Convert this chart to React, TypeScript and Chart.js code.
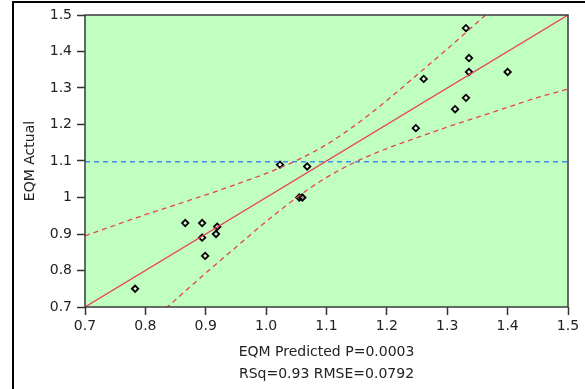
import React, { useEffect, useRef } from "react";
import { Chart, registerables } from "chart.js";

Chart.register(...registerables);

// Observed points (EQM Predicted vs EQM Actual)
const predicted = [0.783, 0.866, 0.894, 0.894, 0.899, 0.917, 0.919, 1.023, 1.055, 1.06, 1.068, 1.248, 1.261, 1.313, 1.331, 1.331, 1.336, 1.336, 1.4];
const actual = [0.75, 0.93, 0.93, 0.89, 0.84, 0.9, 0.92, 1.09, 1.0, 1.0, 1.085, 1.19, 1.325, 1.242, 1.273, 1.464, 1.382, 1.344, 1.344];

// Fit line endpoints and mean of actual
const fitX = [0.7, 1.5];
const fitY = [0.7, 1.5];
const meanActual = 1.098;

// Confidence curve readings
const bandX = [0.7, 0.75, 0.8, 0.85, 0.9, 0.95, 1.0, 1.05, 1.1, 1.15, 1.2, 1.25, 1.3, 1.35, 1.4, 1.45, 1.5];
const bandUpper = [0.895, 0.924, 0.953, 0.98, 1.007, 1.036, 1.066, 1.101, 1.145, 1.201, 1.266, 1.336, 1.407, 1.48, 1.553, 1.626, 1.7];
const bandLower = [0.5, 0.574, 0.647, 0.72, 0.793, 0.864, 0.934, 0.999, 1.055, 1.099, 1.134, 1.164, 1.193, 1.22, 1.247, 1.274, 1.297];

const xTitle = ["EQM Predicted P=0.0003", "RSq=0.93 RMSE=0.0792"];
const yTitle = "EQM Actual";

const FONT = "'DejaVu Sans', Verdana, sans-serif";
const RED = "#e8405c";

export default function App() {
  const ref = useRef<HTMLCanvasElement | null>(null);
  useEffect(() => {
    if (!ref.current) return;
    const areaPlugin = {
      id: "areaPlugin",
      beforeDatasetsDraw(chart: any) {
        const { ctx, chartArea: a } = chart;
        ctx.save();
        ctx.fillStyle = "#c0ffc0";
        ctx.fillRect(a.left, a.top, a.right - a.left, a.bottom - a.top);
        ctx.restore();
      },
      afterDatasetsDraw(chart: any) {
        const { ctx, chartArea: a } = chart;
        ctx.save();
        ctx.strokeStyle = "#3a3a3a";
        ctx.lineWidth = 1.5;
        ctx.strokeRect(a.left, a.top, a.right - a.left, a.bottom - a.top);
        ctx.restore();
      },
    };
    const chart = new Chart(ref.current, {
      type: "scatter",
      data: {
        datasets: [
          {
            type: "line",
            data: bandX.map((x, i) => ({ x, y: bandUpper[i] })),
            borderColor: RED,
            borderWidth: 1.3,
            borderDash: [5, 4],
            pointRadius: 0,
            cubicInterpolationMode: "monotone",
            fill: false,
          },
          {
            type: "line",
            data: bandX.map((x, i) => ({ x, y: bandLower[i] })),
            borderColor: RED,
            borderWidth: 1.3,
            borderDash: [5, 4],
            pointRadius: 0,
            cubicInterpolationMode: "monotone",
            fill: false,
          },
          {
            type: "line",
            data: fitX.map((x, i) => ({ x, y: fitY[i] })),
            borderColor: RED,
            borderWidth: 1.3,
            pointRadius: 0,
            fill: false,
          },
          {
            type: "line",
            data: fitX.map((x) => ({ x, y: meanActual })),
            borderColor: "#3f8fe6",
            borderWidth: 1.5,
            borderDash: [5, 4],
            pointRadius: 0,
            fill: false,
          },
          {
            type: "scatter",
            data: predicted.map((x, i) => ({ x, y: actual[i] })),
            pointStyle: "rectRot",
            pointRadius: 3.2,
            borderColor: "#000",
            borderWidth: 1.8,
            backgroundColor: "rgba(255,255,255,0.5)",
          },
        ],
      },
      options: {
        responsive: false,
        animation: false,
        layout: { padding: { left: 18, top: 15, right: 17, bottom: 0 } },
        plugins: { legend: { display: false }, tooltip: { enabled: false } },
        scales: {
          x: {
            type: "linear",
            min: 0.7,
            max: 1.5,
            afterFit(s: any) {
              s.height = 82;
            },
            ticks: {
              stepSize: 0.1,
              color: "#222",
              font: { family: FONT, size: 14 },
              padding: 3,
              maxRotation: 0,
              callback: (v: any) => Number(v).toFixed(1),
            },
            grid: { drawOnChartArea: false, tickLength: 8, color: "#333", tickWidth: 1.5 },
            border: { display: false },
            title: {
              display: true,
              text: xTitle,
              color: "#222",
              font: { family: FONT, size: 14, lineHeight: 1.57 },
              padding: { top: 0, bottom: 4 },
            },
          },
          y: {
            type: "linear",
            min: 0.7,
            max: 1.5,
            afterFit(s: any) {
              s.width = 67;
            },
            ticks: {
              stepSize: 0.1,
              color: "#222",
              font: { family: FONT, size: 14 },
              padding: 5,
              callback: (v: any) => {
                const n = Math.round(Number(v) * 10) / 10;
                return Number.isInteger(n) ? String(n) : n.toFixed(1);
              },
            },
            grid: { drawOnChartArea: false, tickLength: 8, color: "#333", tickWidth: 1.5 },
            border: { display: false },
            title: {
              display: true,
              text: yTitle,
              color: "#222",
              font: { family: FONT, size: 14 },
              padding: { top: 4, bottom: 4 },
            },
          },
        },
      },
      plugins: [areaPlugin],
    } as any);
    return () => chart.destroy();
  }, []);
  return (
    <div style={{ position: "fixed", left: 0, top: 0, width: 585, height: 389, background: "#fff" }}>
      <div
        style={{
          position: "absolute",
          left: 12,
          top: 1,
          width: 573,
          height: 388,
          borderTop: "2px solid #000",
          borderLeft: "2px solid #000",
          boxSizing: "border-box",
        }}
      />
      <canvas ref={ref} width={585} height={389} style={{ position: "absolute", left: 0, top: 0, display: "block" }} />
    </div>
  );
}
